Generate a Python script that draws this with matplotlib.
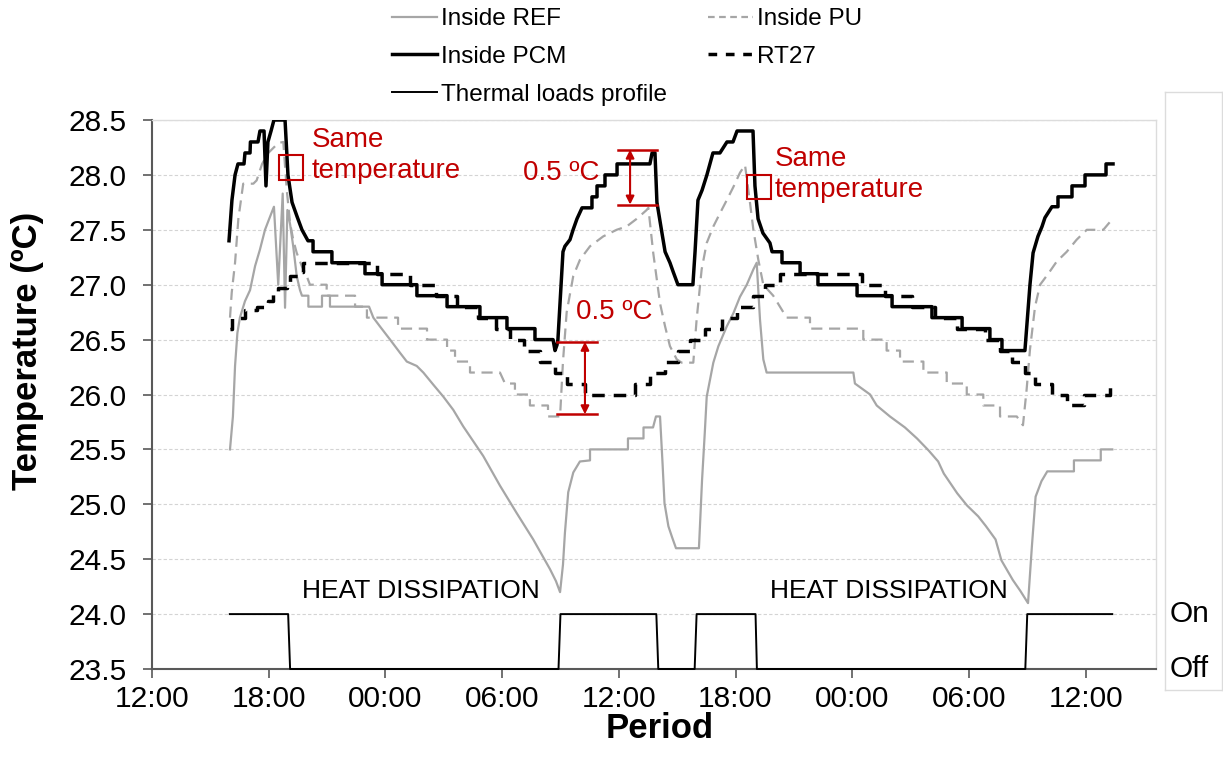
import matplotlib
matplotlib.use("Agg")
import matplotlib.pyplot as plt
from matplotlib.patches import Rectangle
from matplotlib.lines import Line2D
from matplotlib.transforms import blended_transform_factory

plt.rcParams['font.family'] = ['Liberation Sans', 'DejaVu Sans']

# ---------------- data (hours after 12:00 of day 1, temperature in ºC) -------------
x_tick_hours = [0, 6, 12, 18, 24, 30, 36, 42, 48]
x_tick_labels = ['12:00', '18:00', '00:00', '06:00', '12:00', '18:00', '00:00', '06:00', '12:00']
y_ticks = [23.5, 24.0, 24.5, 25.0, 25.5, 26.0, 26.5, 27.0, 27.5, 28.0, 28.5]

inside_ref = [
    (4.01, 25.5), (4.16, 25.8), (4.27, 26.26), (4.39, 26.56), (4.52, 26.7), (4.78, 26.85),
    (5.04, 26.95), (5.30, 27.17), (5.55, 27.32), (5.81, 27.5), (6.07, 27.62), (6.27, 27.71),
    (6.49, 27.0), (6.72, 27.83), (6.84, 26.79), (6.96, 27.68), (7.10, 27.55), (7.26, 27.35),
    (7.44, 27.08), (7.61, 26.95), (7.71, 26.9), (8.04, 26.9), (8.04, 26.8), (8.74, 26.8),
    (8.74, 26.9), (9.15, 26.9), (9.15, 26.8), (11.16, 26.8), (11.38, 26.7), (11.72, 26.62),
    (12.24, 26.5), (12.75, 26.38), (13.10, 26.3), (13.61, 26.26), (13.95, 26.2), (14.46, 26.09),
    (14.98, 25.98), (15.49, 25.86), (16.00, 25.71), (17.03, 25.44), (17.89, 25.17), (18.75, 24.92),
    (19.60, 24.68), (20.46, 24.41), (20.77, 24.3), (20.98, 24.2), (21.13, 24.45), (21.23, 24.74),
    (21.40, 25.11), (21.66, 25.29), (22.0, 25.39), (22.52, 25.4), (22.52, 25.5), (24.47, 25.5),
    (24.47, 25.6), (25.27, 25.6), (25.27, 25.7), (25.76, 25.7), (25.91, 25.8), (26.12, 25.8),
    (26.25, 25.37), (26.35, 25.01), (26.55, 24.8), (26.74, 24.7), (26.94, 24.6), (28.12, 24.6),
    (28.28, 25.22), (28.42, 25.65), (28.52, 25.98), (28.86, 26.29), (29.12, 26.44), (29.55, 26.62),
    (29.89, 26.74), (30.23, 26.89), (30.58, 27.0), (30.92, 27.14), (31.09, 27.2), (31.26, 26.68),
    (31.43, 26.32), (31.60, 26.2), (36.06, 26.2), (36.14, 26.1), (36.92, 26.0), (37.26, 25.9),
    (37.94, 25.8), (38.71, 25.7), (39.33, 25.6), (39.93, 25.49), (40.42, 25.39), (40.71, 25.28),
    (41.40, 25.1), (41.90, 24.99), (42.48, 24.89), (42.88, 24.8), (43.37, 24.68), (43.67, 24.49),
    (44.26, 24.31), (44.65, 24.21), (45.04, 24.1), (45.24, 24.62), (45.43, 25.07), (45.73, 25.21),
    (46.03, 25.3), (47.40, 25.3), (47.40, 25.4), (48.78, 25.4), (48.78, 25.5), (49.37, 25.5),
]

inside_pu = [
    (4.01, 26.7), (4.10, 26.93), (4.27, 27.2), (4.44, 27.6), (4.69, 27.92), (5.21, 27.92),
    (5.38, 27.95), (5.66, 28.1), (5.98, 28.2), (6.49, 28.29), (6.75, 28.3), (6.93, 27.86),
    (7.10, 27.56), (7.26, 27.41), (7.44, 27.29), (7.70, 27.17), (7.95, 27.08), (8.12, 27.0),
    (8.98, 27.0), (8.98, 26.9), (10.44, 26.9), (10.44, 26.8), (11.05, 26.8), (11.05, 26.7),
    (12.65, 26.7), (12.65, 26.6), (14.14, 26.6), (14.14, 26.5), (15.17, 26.5), (15.17, 26.4),
    (15.58, 26.4), (15.58, 26.3), (16.35, 26.3), (16.35, 26.2), (17.89, 26.2), (18.15, 26.1),
    (18.66, 26.1), (18.66, 26.0), (19.43, 26.0), (19.43, 25.9), (20.36, 25.9), (20.36, 25.8),
    (20.98, 25.8), (21.13, 26.3), (21.32, 26.75), (21.66, 27.08), (22.01, 27.23), (22.52, 27.35),
    (23.20, 27.44), (23.89, 27.5), (24.40, 27.53), (24.92, 27.6), (25.43, 27.68), (25.52, 27.7),
    (25.77, 27.29), (26.12, 26.83), (26.38, 26.62), (26.63, 26.44), (26.98, 26.32), (27.23, 26.29),
    (27.83, 26.29), (28.0, 26.68), (28.26, 27.14), (28.52, 27.38), (28.86, 27.53), (29.20, 27.65),
    (29.55, 27.77), (29.89, 27.89), (30.23, 28.02), (30.49, 28.09), (30.75, 27.74), (30.92, 27.5),
    (31.17, 27.23), (31.43, 27.0), (31.94, 26.9), (32.63, 26.7), (33.83, 26.7), (33.83, 26.6),
    (36.57, 26.6), (36.57, 26.5), (37.77, 26.5), (37.77, 26.4), (38.46, 26.4), (38.46, 26.3),
    (39.66, 26.3), (39.66, 26.2), (40.86, 26.2), (40.86, 26.1), (41.89, 26.1), (41.89, 26.0),
    (42.74, 26.0), (42.74, 25.9), (43.60, 25.9), (43.60, 25.8), (44.46, 25.8), (44.78, 25.72),
    (44.97, 26.05), (45.14, 26.41), (45.40, 26.8), (45.66, 27.0), (46.08, 27.1), (46.51, 27.21),
    (47.03, 27.3), (47.54, 27.41), (48.06, 27.5), (48.91, 27.5), (49.34, 27.59),
]

inside_pcm = [
    (3.96, 27.4), (4.11, 27.77), (4.27, 28.0), (4.42, 28.1), (4.73, 28.1), (4.78, 28.2),
    (5.04, 28.2), (5.06, 28.3), (5.45, 28.3), (5.55, 28.4), (5.76, 28.4), (5.86, 27.9),
    (5.96, 28.3), (6.12, 28.4), (6.27, 28.5), (6.84, 28.5), (6.99, 28.0), (7.20, 27.75),
    (7.46, 27.62), (7.71, 27.5), (8.02, 27.4), (8.28, 27.4), (8.28, 27.3), (9.25, 27.3),
    (9.25, 27.2), (10.95, 27.2), (10.95, 27.1), (11.83, 27.1), (11.83, 27.0), (13.62, 27.0),
    (13.62, 26.9), (15.17, 26.9), (15.17, 26.8), (16.86, 26.8), (16.86, 26.7), (18.25, 26.7),
    (18.25, 26.6), (19.69, 26.6), (19.69, 26.5), (20.62, 26.5), (20.72, 26.4), (20.82, 26.45),
    (20.87, 26.5), (21.13, 27.3), (21.23, 27.35), (21.49, 27.41), (21.65, 27.5), (21.85, 27.6),
    (22.11, 27.7), (22.62, 27.7), (22.62, 27.8), (22.88, 27.8), (22.88, 27.9), (23.29, 27.9),
    (23.29, 28.0), (23.91, 28.0), (23.91, 28.1), (25.60, 28.1), (25.71, 28.2), (25.86, 28.2),
    (25.96, 27.75), (26.22, 27.47), (26.38, 27.3), (26.63, 27.2), (26.79, 27.12), (27.04, 27.0),
    (27.81, 27.0), (27.92, 27.3), (28.07, 27.77), (28.28, 27.86), (28.53, 28.0), (28.84, 28.2),
    (29.20, 28.2), (29.56, 28.3), (29.87, 28.3), (30.08, 28.4), (30.90, 28.4), (31.00, 27.9),
    (31.16, 27.6), (31.41, 27.47), (31.77, 27.38), (31.88, 27.3), (32.39, 27.3), (32.39, 27.2),
    (33.32, 27.2), (33.32, 27.1), (34.24, 27.1), (34.24, 27.0), (36.25, 27.0), (36.25, 26.9),
    (38.05, 26.9), (38.05, 26.8), (40.10, 26.8), (40.10, 26.7), (41.65, 26.7), (41.65, 26.6),
    (43.08, 26.6), (43.08, 26.5), (43.70, 26.5), (43.70, 26.4), (44.88, 26.4), (45.14, 27.0),
    (45.30, 27.29), (45.55, 27.44), (45.76, 27.53), (45.91, 27.61), (46.27, 27.71), (46.58, 27.71),
    (46.58, 27.8), (47.30, 27.8), (47.30, 27.9), (47.97, 27.9), (47.97, 28.0), (49.05, 28.0),
    (49.05, 28.1), (49.41, 28.1),
]

# RT27: (start hour of step, temperature)
rt27_steps = [
    (4.01, 26.6), (4.11, 26.7), (4.78, 26.77), (5.40, 26.8), (5.96, 26.85), (6.22, 26.92),
    (6.48, 26.97), (6.94, 27.0), (7.10, 27.08), (7.61, 27.12), (7.76, 27.2), (11.57, 27.1),
    (13.26, 27.0), (14.60, 26.9), (15.68, 26.8), (16.76, 26.7), (17.69, 26.6), (18.41, 26.5),
    (19.13, 26.4), (19.95, 26.3), (20.72, 26.2), (21.34, 26.1), (22.26, 26.0), (24.83, 26.1),
    (25.60, 26.2), (26.38, 26.3), (27.04, 26.4), (27.66, 26.5), (28.43, 26.6), (29.31, 26.7),
    (30.08, 26.8), (30.90, 26.9), (31.52, 27.0), (32.29, 27.1), (36.50, 27.0), (37.69, 26.9),
    (39.07, 26.8), (40.26, 26.7), (41.39, 26.6), (42.83, 26.5), (43.60, 26.4), (44.22, 26.3),
    (44.88, 26.2), (45.40, 26.1), (46.27, 26.0), (47.04, 25.9), (47.92, 26.0), (49.25, 26.1),
    (49.41, 26.1),
]

# Thermal loads profile (1 = On, 0 = Off)
load_hours = [4.0, 7.0, 7.1, 20.9, 21.0, 25.93, 26.03, 27.9, 28.0, 31.03, 31.1, 44.9, 45.0, 49.37]
load_state = [1, 1, 0, 0, 1, 1, 0, 0, 1, 1, 0, 0, 1, 1]
load_off_level, load_on_level = 23.5, 24.0

# annotations (data coordinates)
same_temp_boxes = [(7.15, 28.07), (31.23, 27.89)]
same_temp_text = [(8.21, 28.18), (32.03, 28.0)]
diff_upper = dict(x0=23.96, x1=25.96, xa=24.58, ytop=28.23, ybot=27.73)
diff_lower = dict(x0=20.82, x1=22.88, xa=22.26, ytop=26.48, ybot=25.82)
diff_text = [(21.05, 28.02), (23.75, 26.75)]
heat_text = [(13.83, 24.21), (37.91, 24.21)]

# ---------------- figure ----------------
RED = '#c00000'
GREY = '#a6a6a6'
AXC = '#595959'

fig = plt.figure(figsize=(12.23, 7.62), dpi=100)
ax = fig.add_axes([152 / 1223, 1 - 669 / 762, (1156 - 152) / 1223, (669 - 120) / 762])

def split(points):
    return [p[0] for p in points], [p[1] for p in points]

t, v = split(inside_ref)
ax.plot(t, v, color=GREY, lw=1.6, zorder=3)
t, v = split(inside_pu)
ax.plot(t, v, color=GREY, lw=1.6, dashes=(5, 3), zorder=3)
t, v = split(rt27_steps)
ax.plot(t, v, color='black', lw=2.5, dashes=(3.6, 2.6), drawstyle='steps-post', zorder=4)
t, v = split(inside_pcm)
ax.plot(t, v, color='black', lw=2.5, zorder=5)
load_y = [load_on_level if s else load_off_level for s in load_state]
ax.plot(load_hours, load_y, color='black', lw=1.4, zorder=5, clip_on=False)

# axes styling
ax.set_xlim(0, (1156 - 152) / 19.45)
ax.set_ylim(23.5, 28.5)
ax.set_xticks(x_tick_hours)
ax.set_xticklabels(x_tick_labels)
ax.set_yticks(y_ticks)
ax.set_yticklabels([f'{y:.1f}' for y in y_ticks])
ax.tick_params(axis='both', direction='out', length=6.5, width=1.2, color=AXC, labelsize=21.5)
ax.tick_params(axis='x', pad=5)
ax.tick_params(axis='y', pad=12)
for side in ('left', 'bottom'):
    ax.spines[side].set_color(AXC)
    ax.spines[side].set_linewidth(1.5)
for side in ('top', 'right'):
    ax.spines[side].set_color('#dcdcdc')
    ax.spines[side].set_linewidth(1.0)
ax.yaxis.grid(True, color='#d4d4d4', linestyle=(0, (3, 2)), linewidth=0.8)
ax.set_axisbelow(True)

ax.set_ylabel('Temperature (ºC)', fontsize=25, fontweight='bold')
ax.yaxis.set_label_coords(-0.108, 0.579)
ax.set_xlabel('Period', fontsize=25, fontweight='bold')
ax.xaxis.set_label_coords(0.506, -0.078)

# annotations
for (cx, cy) in same_temp_boxes:
    ax.add_patch(Rectangle((cx - 0.62, cy - 0.113), 1.24, 0.226, fill=False,
                           edgecolor=RED, lw=1.5, zorder=6))
for (tx, ty) in same_temp_text:
    ax.text(tx, ty, 'Same\ntemperature', color=RED, fontsize=20, ha='left', va='center',
            linespacing=1.25, zorder=7)

for d in (diff_upper, diff_lower):
    ax.plot([d['x0'], d['x1']], [d['ytop'], d['ytop']], color=RED, lw=1.8, zorder=7)
    ax.plot([d['x0'], d['x1']], [d['ybot'], d['ybot']], color=RED, lw=1.8, zorder=7)
    ax.annotate('', xy=(d['xa'], d['ytop']), xytext=(d['xa'], d['ybot']),
                arrowprops=dict(arrowstyle='<|-|>', color=RED, lw=1.5,
                                mutation_scale=12, shrinkA=0, shrinkB=0), zorder=7)
for (tx, ty) in diff_text:
    ax.text(tx, ty, '0.5 ºC', color=RED, fontsize=20, ha='center', va='center', zorder=7)

for (tx, ty) in heat_text:
    ax.text(tx, ty, 'HEAT DISSIPATION', fontsize=19, ha='center', va='center')

# On / Off box on the right
box = fig.add_axes([1165 / 1223, 1 - 690 / 762, 57 / 1223, (690 - 92) / 762])
box.set_xticks([])
box.set_yticks([])
box.patch.set_alpha(0)
for s in box.spines.values():
    s.set_color('#dcdcdc')
    s.set_linewidth(1.0)
trans = blended_transform_factory(ax.transAxes, ax.transData)
xo = (1170 - 152) / (1156 - 152)
ax.text(xo, load_on_level, 'On', transform=trans, fontsize=21.5, ha='left', va='center')
ax.text(xo, load_off_level, 'Off', transform=trans, fontsize=21.5, ha='left', va='center')

# legend
handles = [
    Line2D([], [], color=GREY, lw=1.6),
    Line2D([], [], color='black', lw=2.5),
    Line2D([], [], color='black', lw=1.4),
    Line2D([], [], color=GREY, lw=1.6, dashes=(3, 2)),
    Line2D([], [], color='black', lw=2.5, dashes=(2.5, 2.5)),
]
labels = ['Inside REF', 'Inside PCM', 'Thermal loads profile', 'Inside PU', 'RT27']
fig.legend(handles, labels, loc='upper left', bbox_to_anchor=(392 / 1223, 1 - 8 / 762), ncol=2,
           frameon=False, fontsize=17.5, handlelength=1.85, handletextpad=0.15,
           labelspacing=0.65, columnspacing=1.7, borderaxespad=0.0, borderpad=0.0)

fig.savefig('out.png', dpi=100)
